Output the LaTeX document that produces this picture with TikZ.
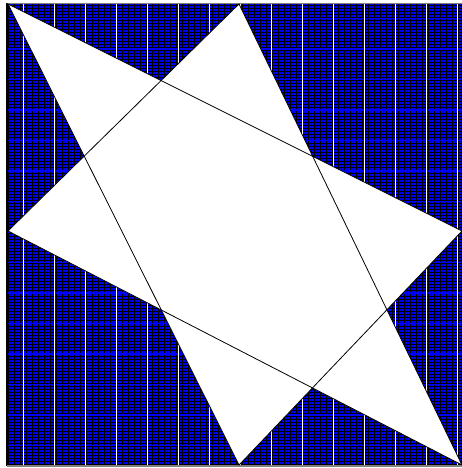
\documentclass[tikz,border=0pt]{standalone}
\begin{document}
\begin{tikzpicture}[x=1pt,y=-1pt,
  gridline/.style={black,line width=0.6pt},
  bandline/.style={blue,line width=1.6pt},
  whiteline/.style={white,line width=0.9pt},
  staredge/.style={black,line width=0.8pt,line join=miter}]
\useasboundingbox (0,0) rectangle (462,468);
\fill[white] (0,0) rectangle (462,468);
% square corners
\coordinate (sq1) at (8,4);
\coordinate (sq2) at (462,465);
% triangle 1
\coordinate (A) at (239,4);
\coordinate (B) at (8,231);
\coordinate (C) at (462,465);
% triangle 2
\coordinate (D) at (8,4);
\coordinate (E) at (462,231);
\coordinate (F) at (239,465);
\begin{scope}
  \clip (sq1) rectangle (sq2);
  \fill[blue] (sq1) rectangle (sq2);
  \foreach \x in {8.5,11.5,...,462} \draw[gridline] (\x,4) -- (\x,465);
  \foreach \y in {5.5,8.5,...,465} \draw[gridline] (8,\y) -- (462,\y);
  \foreach \y in {18.5,49,...,465} \draw[bandline] (8,\y) -- (462,\y);
  \foreach \x in {23,54,...,462} \draw[whiteline] (\x,4) -- (\x,465);
\end{scope}
% frame
\draw[black,line width=2pt] (7,3) -- (7,466);
\draw[gray,line width=1.5pt] (7,3.5) -- (470,3.5);
\draw[gray,line width=1.5pt] (7,465.8) -- (470,465.8);
% star
\fill[white] (A) -- (B) -- (C) -- cycle;
\fill[white] (D) -- (E) -- (F) -- cycle;
\draw[staredge] (A) -- (B) -- (C) -- cycle;
\draw[staredge] (D) -- (E) -- (F) -- cycle;
\end{tikzpicture}
\end{document}
